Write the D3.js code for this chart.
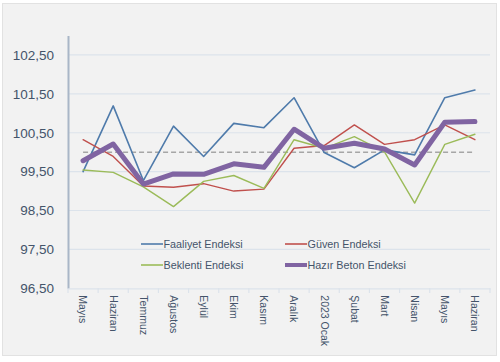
<!DOCTYPE html>
<html><head><meta charset="utf-8">
<script src="https://cdn.jsdelivr.net/npm/d3@7"></script>
<style>body{margin:0;background:#fff;}svg{display:block;font-family:"Liberation Sans",Arial,sans-serif;}</style>
</head><body><svg id="c" width="500" height="362"></svg>
<script>
const categories = ["Mayıs","Haziran","Temmuz","Ağustos","Eylül","Ekim","Kasım","Aralık","2023 Ocak","Şubat","Mart","Nisan","Mayıs","Haziran"];
const faaliyet = [99.50,101.19,99.27,100.67,99.89,100.74,100.63,101.40,99.99,99.60,100.06,99.93,101.40,101.60];
const guven    = [100.32,99.89,99.13,99.10,99.19,99.00,99.05,100.10,100.17,100.70,100.20,100.32,100.70,100.32];
const beklenti = [99.54,99.48,99.11,98.60,99.25,99.40,99.07,100.32,100.10,100.40,100.01,98.69,100.20,100.46];
const hazir    = [99.78,100.21,99.18,99.44,99.43,99.70,99.61,100.59,100.10,100.23,100.08,99.67,100.77,100.79];
const refValue = 100;
const yTicks = [96.5,97.5,98.5,99.5,100.5,101.5,102.5];
const series = [
  {name:"Faaliyet Endeksi", values:faaliyet, color:"#4f7bab", width:1.6},
  {name:"Güven Endeksi", values:guven, color:"#c0504d", width:1.4},
  {name:"Beklenti Endeksi", values:beklenti, color:"#9bbb59", width:1.4},
  {name:"Hazır Beton Endeksi", values:hazir, color:"#8064a2", width:5}
];

const svg = d3.select("#c");
svg.append("rect").attr("x",2.5).attr("y",3.5).attr("width",494).attr("height",352)
  .attr("fill","#f2f2f2").attr("stroke","#e2e2e2");

const x = d3.scaleBand().domain(d3.range(categories.length)).range([68,490]);
const y = d3.scaleLinear().domain([96.5,103]).range([288.3,35.5]);
const cx = i => x(i) + x.bandwidth()/2;

// gridlines
svg.append("g").selectAll("line").data(yTicks.slice(1)).join("line")
  .attr("x1",68).attr("x2",490).attr("y1",d=>y(d)).attr("y2",d=>y(d))
  .attr("stroke","#dce3eb").attr("stroke-width",1.2);

// y axis
const yAxis = d3.axisLeft(y).tickValues(yTicks).tickSize(0).tickPadding(14)
  .tickFormat(d=>d3.format(".2f")(d).replace(".",","));
const gy = svg.append("g").attr("transform","translate(68,0)").call(yAxis);
gy.select(".domain").attr("stroke","#a9b6c7").attr("stroke-width",2);
gy.selectAll("text").attr("fill","#44546a").attr("font-size","13.5px");

// x axis
const xAxis = d3.axisBottom(x).tickSize(0).tickFormat(i=>categories[i]);
const gx = svg.append("g").attr("transform","translate(0,288.3)").call(xAxis);
gx.select(".domain").attr("stroke","#dce3eb").attr("stroke-width",1.2);
gx.selectAll("text").attr("fill","#44546a").attr("font-size","10.5px")
  .attr("transform","rotate(90)").attr("text-anchor","start")
  .attr("x",7).attr("y",0).attr("dy","0.35em");
// category separator ticks
svg.append("g").selectAll("line").data(d3.range(categories.length+1)).join("line")
  .attr("x1",i=>68+i*x.step()).attr("x2",i=>68+i*x.step())
  .attr("y1",288.3).attr("y2",293).attr("stroke","#dce3eb").attr("stroke-width",1.2);

// reference line
svg.append("line").attr("x1",cx(0)).attr("x2",cx(categories.length-1))
  .attr("y1",y(refValue)).attr("y2",y(refValue))
  .attr("stroke","#a6a6a6").attr("stroke-width",1.4).attr("stroke-dasharray","5,3");

const line = d3.line().x((d,i)=>cx(i)).y(d=>y(d));
svg.append("g").selectAll("path").data(series).join("path")
  .attr("d",s=>line(s.values)).attr("fill","none")
  .attr("stroke",s=>s.color).attr("stroke-width",s=>s.width)
  .attr("stroke-linejoin","round").attr("stroke-linecap","round");

// legend
const legPos = [[141,244],[285,244],[141,265],[285,265]];
const legOrder = [0,1,2,3];
const lg = svg.append("g");
legOrder.forEach((si,k)=>{
  const s = series[si], [lx,ly] = legPos[k];
  lg.append("line").attr("x1",lx).attr("x2",lx+22).attr("y1",ly).attr("y2",ly)
    .attr("stroke",s.color).attr("stroke-width",s.width>3?4:1.6);
  lg.append("text").attr("x",lx+22.5).attr("y",ly).attr("dy","0.35em")
    .attr("fill","#44546a").attr("font-size","10.8px").text(s.name);
});
</script></body></html>
